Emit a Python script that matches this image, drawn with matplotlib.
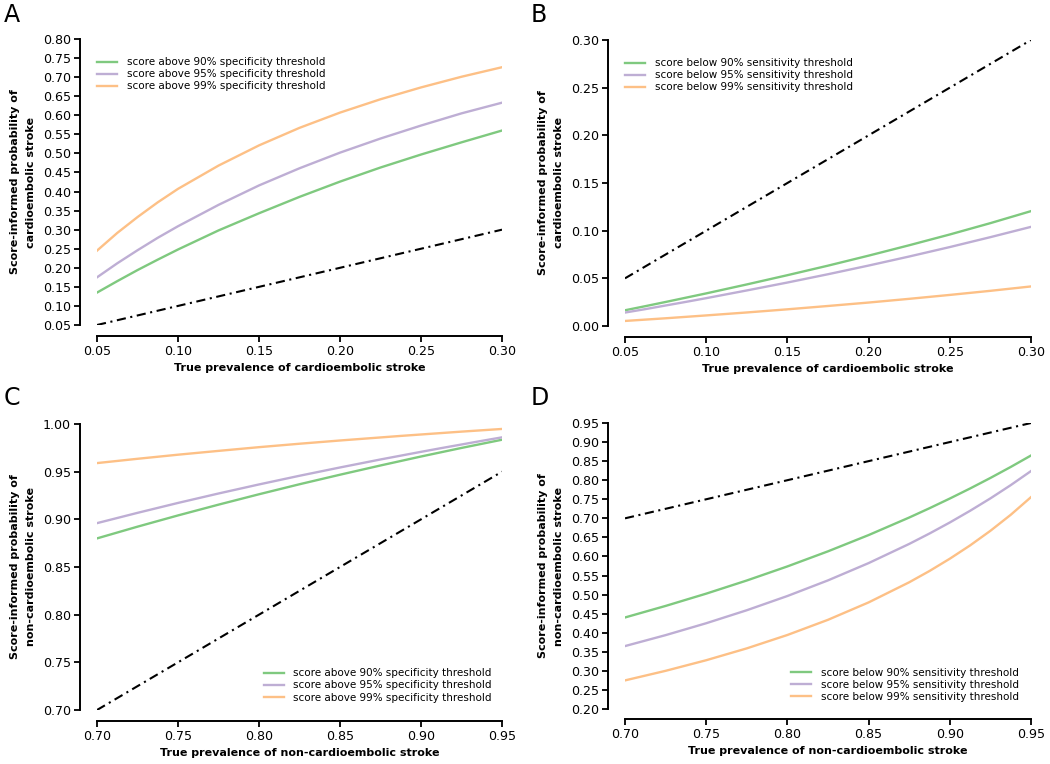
import matplotlib
matplotlib.use("Agg")
import matplotlib.pyplot as plt
import numpy as np

# ---------------- data ----------------
prev_ce = [0.05, 0.0625, 0.075, 0.0875, 0.10, 0.125, 0.15, 0.175, 0.20, 0.225, 0.25, 0.275, 0.30]
prev_nce = [0.70, 0.725, 0.75, 0.775, 0.80, 0.825, 0.85, 0.875, 0.8875, 0.90, 0.9125, 0.925, 0.9375, 0.95]

# Panel A: score above specificity threshold -> P(cardioembolic)
a_spec90 = [0.135, 0.165, 0.194, 0.2214, 0.248, 0.298, 0.343, 0.386, 0.426, 0.463, 0.497, 0.529, 0.560]
a_spec95 = [0.175, 0.2118, 0.246, 0.2787, 0.309, 0.365, 0.416, 0.461, 0.502, 0.539, 0.573, 0.605, 0.633]
a_spec99 = [0.245, 0.2914, 0.333, 0.3717, 0.407, 0.468, 0.521, 0.567, 0.607, 0.642, 0.673, 0.701, 0.726]

# Panel B: score below sensitivity threshold -> P(cardioembolic)
b_sens90 = [0.0165, 0.0208, 0.0252, 0.0297, 0.0342, 0.0436, 0.0533, 0.0633, 0.0738, 0.0847, 0.0960, 0.1079, 0.1205]
b_sens95 = [0.0141, 0.0177, 0.0215, 0.0253, 0.0292, 0.0373, 0.0456, 0.0543, 0.0634, 0.0729, 0.0828, 0.0932, 0.1040]
b_sens99 = [0.0053, 0.0067, 0.0081, 0.0096, 0.0111, 0.0142, 0.0175, 0.0210, 0.0246, 0.0285, 0.0326, 0.0369, 0.0415]

# Panel C: score above specificity threshold -> P(non-cardioembolic)
c_spec90 = [0.880, 0.8923, 0.9041, 0.9154, 0.9263, 0.9368, 0.9468, 0.9565, 0.9612, 0.9659, 0.9704, 0.9749, 0.9792, 0.9835]
c_spec95 = [0.896, 0.9068, 0.9172, 0.9271, 0.9366, 0.9457, 0.9544, 0.9628, 0.9668, 0.9708, 0.9747, 0.9785, 0.9823, 0.9860]
c_spec99 = [0.959, 0.9635, 0.9678, 0.9718, 0.9757, 0.9793, 0.9827, 0.9859, 0.9875, 0.9890, 0.9905, 0.9920, 0.9934, 0.9948]

# Panel D: score below sensitivity threshold -> P(non-cardioembolic)
d_sens90 = [0.440, 0.4703, 0.5025, 0.5370, 0.5739, 0.6135, 0.6561, 0.7021, 0.7265, 0.7519, 0.7783, 0.8059, 0.8347, 0.8648]
d_sens95 = [0.365, 0.3937, 0.4249, 0.4590, 0.4963, 0.5373, 0.5826, 0.6329, 0.6602, 0.6891, 0.7198, 0.7523, 0.7870, 0.8240]
d_sens99 = [0.275, 0.3001, 0.3279, 0.3590, 0.3941, 0.4339, 0.4795, 0.5323, 0.5619, 0.5941, 0.6290, 0.6673, 0.7092, 0.7556]

spec_labels = ["score above 90% specificity threshold",
               "score above 95% specificity threshold",
               "score above 99% specificity threshold"]
sens_labels = ["score below 90% sensitivity threshold",
               "score below 95% sensitivity threshold",
               "score below 99% sensitivity threshold"]

xlabel_ce = "True prevalence of cardioembolic stroke"
xlabel_nce = "True prevalence of non-cardioembolic stroke"
ylabel_ce = "Score-informed probability of\ncardioembolic stroke"
ylabel_nce = "Score-informed probability of\nnon-cardioembolic stroke"

colors = ["#7fc97f", "#beaed4", "#fdc086"]

W, H = 1050, 764
fig = plt.figure(figsize=(W / 100, H / 100), dpi=100)


def px_axes(x0, x1, ytop, ybot):
    return fig.add_axes([x0 / W, 1 - ybot / H, (x1 - x0) / W, (ybot - ytop) / H])


def panel(rect, x, series, labels, xlim, ylim, yticks, xticks, xlabel, ylabel,
          letter, letter_xy, legend_loc, anchor, left_off, bot_off):
    ax = px_axes(*rect)
    ax.plot(x, x, color="black", linestyle=(0, (4.4, 2.2, 1.0, 2.2)), linewidth=1.5)
    for s, lab, c in zip(series, labels, colors):
        ax.plot(x, s, color=c, linewidth=1.7, label=lab)
    ax.set_xlim(*xlim)
    ax.set_ylim(*ylim)
    ax.set_xticks(xticks)
    ax.set_yticks(yticks)
    ax.set_xticklabels([f"{t:.2f}" for t in xticks])
    ax.set_yticklabels([f"{t:.2f}" for t in yticks])
    for side in ["top", "right"]:
        ax.spines[side].set_visible(False)
    ax.spines["left"].set_position(("outward", left_off))
    ax.spines["bottom"].set_position(("outward", bot_off))
    ax.spines["left"].set_bounds(yticks[0], yticks[-1])
    ax.spines["bottom"].set_bounds(xticks[0], xticks[-1])
    for side in ["left", "bottom"]:
        ax.spines[side].set_linewidth(1.4)
    ax.tick_params(axis="both", labelsize=9.1, length=4, width=1.3, pad=2.5, color="black")
    ax.set_xlabel(xlabel, fontsize=8.0, fontweight="bold", labelpad=3.5)
    ax.set_ylabel(ylabel, fontsize=8.0, fontweight="bold", labelpad=5, linespacing=1.7)
    ax.legend(loc=legend_loc, bbox_to_anchor=anchor, frameon=False, fontsize=7.5,
              handlelength=1.95, handletextpad=0.9, labelspacing=0.2,
              borderaxespad=0.0, borderpad=0.0)
    fig.text(letter_xy[0] / W, 1 - letter_xy[1] / H, letter, fontsize=17,
             ha="left", va="top")
    return ax


pt = 0.72
panel((97, 502, 39, 325), prev_ce, [a_spec90, a_spec95, a_spec99], spec_labels,
      (0.05, 0.30), (0.05, 0.80), list(np.round(np.arange(0.05, 0.801, 0.05), 2)),
      [0.05, 0.10, 0.15, 0.20, 0.25, 0.30], xlabel_ce, ylabel_ce, "A", (4, 3),
      "upper left", (0.0, 0.936), 17 * pt, 11 * pt)

panel((625, 1031, 40, 326), prev_ce, [b_sens90, b_sens95, b_sens99], sens_labels,
      (0.05, 0.30), (0.0, 0.30), [0.0, 0.05, 0.10, 0.15, 0.20, 0.25, 0.30],
      [0.05, 0.10, 0.15, 0.20, 0.25, 0.30], xlabel_ce, ylabel_ce, "B", (531, 3),
      "upper left", (0.0, 0.936), 17 * pt, 11 * pt)

panel((97, 502, 424, 710), prev_nce, [c_spec90, c_spec95, c_spec99], spec_labels,
      (0.70, 0.95), (0.70, 1.00), [0.70, 0.75, 0.80, 0.85, 0.90, 0.95, 1.00],
      [0.70, 0.75, 0.80, 0.85, 0.90, 0.95], xlabel_nce, ylabel_nce, "C", (4, 386),
      "lower right", (0.975, 0.026), 17 * pt, 11 * pt)

panel((625, 1031, 423, 709), prev_nce, [d_sens90, d_sens95, d_sens99], sens_labels,
      (0.70, 0.95), (0.20, 0.95), list(np.round(np.arange(0.20, 0.951, 0.05), 2)),
      [0.70, 0.75, 0.80, 0.85, 0.90, 0.95], xlabel_nce, ylabel_nce, "D", (531, 386),
      "lower right", (0.970, 0.025), 17 * pt, 10 * pt)

fig.savefig("out.png", dpi=100)
